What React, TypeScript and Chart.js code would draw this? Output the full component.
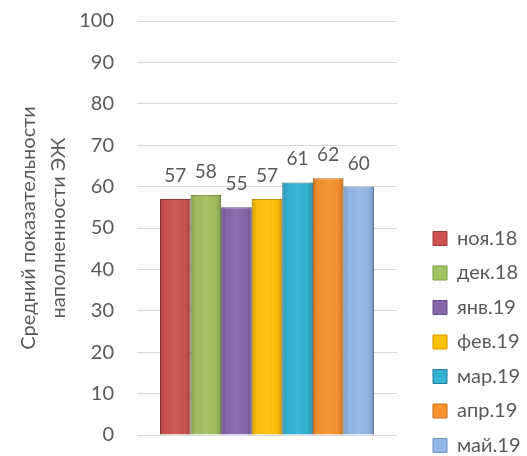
import React, { useEffect, useRef } from "react";
import { Chart, registerables } from "chart.js";

Chart.register(...registerables);

const categories = [""];
const seriesNames = ["ноя.18", "дек.18", "янв.19", "фев.19", "мар.19", "апр.19", "май.19"];
const seriesValues = [57, 58, 55, 57, 61, 62, 60];
const seriesColors = ["#CB5350", "#A2C160", "#8668AA", "#FFC20A", "#33B2D3", "#F7922F", "#93B8E6"];
const seriesBorders = ["#9E3B39", "#7E9C45", "#654D85", "#CC9600", "#217F98", "#C66D1B", "#6F93BF"];
const yTickMax = 100;
const yTickStep = 10;
const yTitle = ["Средний показательности", "наполненности ЭЖ"];

const FONT = "Lato, 'Open Sans', sans-serif";
const TEXT = "#595959";
const LEGEND_SPACE = 130;
const LEGEND_GAP = 21.5;
const LEGEND_DROP = 14;

const legendSpacing = {
  id: "legendSpacing",
  beforeLayout(chart: any) {
    const lg = chart.legend;
    if (lg && !lg.__patched) {
      const origFit = lg.fit;
      lg.fit = function (this: any) {
        origFit.call(this);
        this.width = LEGEND_SPACE;
      };
      lg.__patched = true;
    }
  },
  afterLayout(chart: any) {
    const lg = chart.legend;
    if (lg) {
      lg.left += LEGEND_GAP;
      lg.top += LEGEND_DROP;
      lg.bottom += LEGEND_DROP;
    }
  },
};

const barShading = {
  id: "barShading",
  afterDatasetsDraw(chart: any) {
    const ctx = chart.ctx;
    ctx.save();
    chart.data.datasets.forEach((_ds: any, i: number) => {
      const meta = chart.getDatasetMeta(i);
      meta.data.forEach((el: any) => {
        const left = el.x - el.width / 2;
        const right = el.x + el.width / 2;
        const g = ctx.createLinearGradient(left, 0, right, 0);
        g.addColorStop(0, "rgba(0,0,0,0.16)");
        g.addColorStop(0.18, "rgba(0,0,0,0.02)");
        g.addColorStop(0.5, "rgba(255,255,255,0.06)");
        g.addColorStop(0.82, "rgba(0,0,0,0.02)");
        g.addColorStop(1, "rgba(0,0,0,0.2)");
        ctx.fillStyle = g;
        ctx.fillRect(left, el.y, right - left, el.base - el.y);
      });
    });
    ctx.restore();
  },
};

const valueLabels = {
  id: "valueLabels",
  afterDatasetsDraw(chart: any) {
    const ctx = chart.ctx;
    ctx.save();
    ctx.font = `19px ${FONT}`;
    ctx.fillStyle = TEXT;
    ctx.textAlign = "center";
    ctx.textBaseline = "alphabetic";
    chart.data.datasets.forEach((ds: any, i: number) => {
      const meta = chart.getDatasetMeta(i);
      meta.data.forEach((el: any, j: number) => {
        ctx.fillText(String(ds.data[j]), el.x, el.y - 17);
      });
    });
    ctx.restore();
  },
};

export default function App() {
  const ref = useRef<HTMLCanvasElement>(null);
  useEffect(() => {
    document.body.style.margin = "0";
    const chart = new Chart(ref.current!, {
      type: "bar",
      data: {
        labels: categories,
        datasets: seriesNames.map((n, i) => ({
          label: n,
          data: [seriesValues[i]],
          backgroundColor: seriesColors[i],
          borderColor: seriesBorders[i],
          borderWidth: 1,
          barPercentage: 1,
          categoryPercentage: 0.823,
        })),
      },
      options: {
        animation: false,
        responsive: true,
        maintainAspectRatio: false,
        layout: { padding: { left: 14, top: 21, bottom: 0, right: 0 } },
        plugins: {
          tooltip: { enabled: false },
          legend: {
            position: "right",
            align: "end",
            labels: {
              boxWidth: 14,
              boxHeight: 14,
              padding: 14.5,
              color: TEXT,
              font: { family: FONT, size: 20 },
            },
          },
        },
        scales: {
          x: {
            grid: { display: false },
            border: { display: false },
            ticks: { display: false },
            afterFit: (s: any) => {
              s.height = 21;
            },
          },
          y: {
            min: 0,
            max: yTickMax,
            ticks: { stepSize: yTickStep, color: TEXT, padding: 23, font: { family: FONT, size: 20 } },
            grid: { color: "#D9D9D9", drawTicks: false },
            border: { display: false },
            title: {
              display: true,
              text: yTitle,
              color: TEXT,
              font: { family: FONT, size: 20, lineHeight: 1.5 },
              padding: { top: 0, bottom: 6 },
            },
            afterFit: (s: any) => {
              s.width = 123;
              s.paddingTop = 12;
              s.paddingBottom = 12;
            },
          },
        },
      },
      plugins: [legendSpacing, barShading, valueLabels],
    });
    return () => chart.destroy();
  }, []);
  return (
    <div style={{ width: 527, height: 456, position: "relative" }}>
      <canvas ref={ref} />
    </div>
  );
}
